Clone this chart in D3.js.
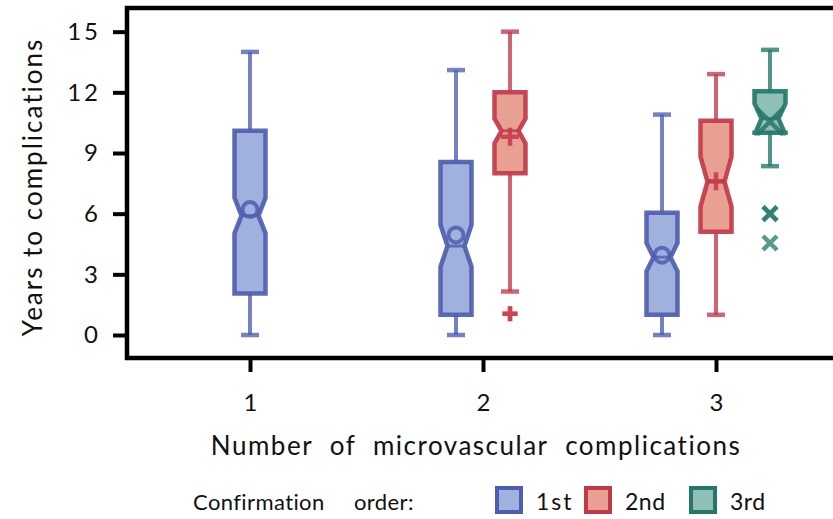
<!DOCTYPE html>
<html>
<head>
<meta charset="utf-8">
<script src="https://cdn.jsdelivr.net/npm/d3@7"></script>
<style>
  html, body { margin: 0; padding: 0; background: #fff; }
  svg { display: block; }
  text { font-family: "Lato", "Open Sans", sans-serif; fill: #111; }
</style>
</head>
<body>
<svg id="chart" width="833" height="519"></svg>
<script>
// ---------- data ----------
const categories = ["1", "2", "3"];
const seriesNames = ["1st", "2nd", "3rd"];
const yTicks = [0, 3, 6, 9, 12, 15];

// one entry per box
const boxGroup    = ["1",   "2",   "2",   "3",   "3",   "3"];
const boxSeries   = ["1st", "1st", "2nd", "1st", "2nd", "3rd"];
const whiskerLow  = [0.0,   0.0,   2.15,  0.0,   1.0,   8.35];
const q1          = [2.05,  1.0,   8.0,   1.0,   5.1,   10.0];
const median      = [5.9,   4.4,   10.1,  3.85,  7.58,  10.7];
const q3          = [10.1,  8.55,  12.0,  6.05,  10.6,  12.05];
const whiskerHigh = [14.0,  13.1,  15.0,  10.9,  12.9,  14.1];
const meanValue   = [6.2,   4.95,  9.8,   3.95,  7.6,   10.55];
const notchLow    = [5.04,  3.38,  9.48,  3.15,  6.35,  9.9];
const notchHigh   = [6.78,  5.44,  10.7,  4.55,  8.82,  11.45];

// outliers
const outlierGroup  = ["2",   "2",   "3",   "3",   "3"];
const outlierSeries = ["2nd", "2nd", "3rd", "3rd", "3rd"];
const outlierValue  = [1.05,  1.05,  6.0,   6.0,   4.55];

// ---------- styling ----------
const strokeColor = { "1st": "#4f5db0", "2nd": "#c2394a", "3rd": "#24776a" };
const fillColor   = { "1st": "#9fb1dc", "2nd": "#e8a093", "3rd": "#8fc0b7" };
const markerShape = { "1st": "circle", "2nd": "plus", "3rd": "cross" };

const svg = d3.select("#chart");

const plot = { left: 127, right: 836, top: 8, bottom: 358 };

const y = d3.scaleLinear().domain([-1.137, 16.17]).range([plot.bottom, plot.top]);
const x = d3.scalePoint().domain(categories).range([250, 716]);
const slot = 54;

function boxCenter(group, series) {
  const present = seriesNames.filter(s =>
    boxSeries.some((bs, i) => bs === s && boxGroup[i] === group));
  const idx = present.indexOf(series);
  return x(group) + (idx - (present.length - 1) / 2) * slot;
}

// ---------- frame ----------
svg.append("rect")
  .attr("x", plot.left).attr("y", plot.top)
  .attr("width", plot.right - plot.left).attr("height", plot.bottom - plot.top)
  .attr("fill", "none").attr("stroke", "#000").attr("stroke-width", 4.5);

// ---------- axes ----------
const yAxis = d3.axisLeft(y).tickValues(yTicks).tickSize(14).tickPadding(12);
const gy = svg.append("g").attr("transform", `translate(${plot.left},0)`).call(yAxis);
gy.select(".domain").remove();
gy.selectAll(".tick line").attr("stroke", "#000").attr("stroke-width", 4);
gy.selectAll(".tick text")
  .attr("font-size", 24).attr("letter-spacing", 3).attr("fill", "#111")
  .style("font-family", "Lato, 'Open Sans', sans-serif");

const xAxis = d3.axisBottom(x).tickSize(14).tickPadding(22);
const gx = svg.append("g").attr("transform", `translate(0,${plot.bottom})`).call(xAxis);
gx.select(".domain").remove();
gx.selectAll(".tick line").attr("stroke", "#000").attr("stroke-width", 4);
gx.selectAll(".tick text")
  .attr("font-size", 24).attr("fill", "#111")
  .style("font-family", "Lato, 'Open Sans', sans-serif");

// axis titles
svg.append("text")
  .attr("transform", `translate(42,${(plot.top + plot.bottom) / 2 + 4}) rotate(-90)`)
  .attr("text-anchor", "middle")
  .attr("font-size", 26)
  .attr("letter-spacing", 2)
  .text("Years to complications");

svg.append("text")
  .attr("x", 476).attr("y", 455)
  .attr("text-anchor", "middle")
  .attr("font-size", 26)
  .attr("letter-spacing", 1.5)
  .attr("word-spacing", 9)
  .text("Number of microvascular complications");

// ---------- boxes ----------
const boxW = 31, notchInset = 7, capW = 18;
const boxes = boxGroup.map((g, i) => ({
  g, s: boxSeries[i], lo: whiskerLow[i], q1: q1[i], med: median[i], q3: q3[i],
  hi: whiskerHigh[i], mean: meanValue[i], nl: notchLow[i], nh: notchHigh[i]
}));

const gBoxes = svg.append("g");
boxes.forEach(b => {
  const cx = boxCenter(b.g, b.s);
  const L = cx - boxW / 2, R = cx + boxW / 2;
  const col = strokeColor[b.s];
  const grp = gBoxes.append("g");

  // whiskers
  grp.append("line").attr("x1", cx).attr("x2", cx).attr("y1", y(b.q3)).attr("y2", y(b.hi))
    .attr("stroke", col).attr("stroke-width", 4).attr("stroke-opacity", 0.78);
  grp.append("line").attr("x1", cx).attr("x2", cx).attr("y1", y(b.q1)).attr("y2", y(b.lo))
    .attr("stroke", col).attr("stroke-width", 4).attr("stroke-opacity", 0.78);
  [b.lo, b.hi].forEach(v => {
    grp.append("line").attr("x1", cx - capW / 2).attr("x2", cx + capW / 2)
      .attr("y1", y(v)).attr("y2", y(v))
      .attr("stroke", col).attr("stroke-width", 4.5).attr("stroke-opacity", 0.78);
  });

  // notched box
  const p = d3.path();
  p.moveTo(L, y(b.q3));
  p.lineTo(R, y(b.q3));
  p.lineTo(R, y(b.nh));
  p.lineTo(R - notchInset, y(b.med));
  p.lineTo(R, y(b.nl));
  p.lineTo(R, y(b.q1));
  p.lineTo(L, y(b.q1));
  p.lineTo(L, y(b.nl));
  p.lineTo(L + notchInset, y(b.med));
  p.lineTo(L, y(b.nh));
  p.closePath();
  grp.append("path").attr("d", p.toString())
    .attr("fill", fillColor[b.s]).attr("stroke", col)
    .attr("stroke-width", 4.5).attr("stroke-linejoin", "miter").attr("stroke-opacity", 0.92);

  // median line
  grp.append("line").attr("x1", L + notchInset).attr("x2", R - notchInset)
    .attr("y1", y(b.med)).attr("y2", y(b.med))
    .attr("stroke", col).attr("stroke-width", 3).attr("stroke-opacity", 0.8);

  // mean marker
  drawMarker(grp, markerShape[b.s], cx, y(b.mean), col, b.s === "3rd" ? 13 : (b.s === "2nd" ? 9 : 7.5), 0.85);
});

function drawMarker(g, shape, cx, cy, col, size, op) {
  if (shape === "circle") {
    g.append("circle").attr("cx", cx).attr("cy", cy).attr("r", size)
      .attr("fill", "none").attr("stroke", col).attr("stroke-width", 4).attr("stroke-opacity", op);
  } else if (shape === "plus") {
    g.append("path")
      .attr("d", `M${cx - size},${cy}L${cx + size},${cy}M${cx},${cy - size}L${cx},${cy + size}`)
      .attr("stroke", col).attr("stroke-width", 4.5).attr("stroke-opacity", op).attr("fill", "none");
  } else {
    g.append("path")
      .attr("d", `M${cx - size},${cy - size}L${cx + size},${cy + size}M${cx - size},${cy + size}L${cx + size},${cy - size}`)
      .attr("stroke", col).attr("stroke-width", 4.5).attr("stroke-opacity", op).attr("fill", "none");
  }
}

// ---------- outliers ----------
const gOut = svg.append("g");
outlierValue.forEach((v, i) => {
  const s = outlierSeries[i];
  const cx = boxCenter(outlierGroup[i], s);
  drawMarker(gOut, markerShape[s], cx, y(v), strokeColor[s], s === "2nd" ? 7.5 : 7, 0.75);
});

// ---------- legend ----------
const legend = svg.append("g");
legend.append("text").attr("x", 193).attr("y", 510).attr("font-size", 22).attr("letter-spacing", 0.4).text("Confirmation");
legend.append("text").attr("x", 354).attr("y", 510).attr("font-size", 22).attr("letter-spacing", 0.4).text("order:");
const legendX = [497, 586, 691];
seriesNames.forEach((s, i) => {
  legend.append("rect").attr("x", legendX[i]).attr("y", 488)
    .attr("width", 24).attr("height", 24)
    .attr("fill", fillColor[s]).attr("stroke", strokeColor[s]).attr("stroke-width", 4);
  legend.append("text").attr("x", legendX[i] + 39).attr("y", 510).attr("font-size", 23)
    .attr("letter-spacing", i === 0 ? 2 : 0.5).text(s);
});
</script>
</body>
</html>
